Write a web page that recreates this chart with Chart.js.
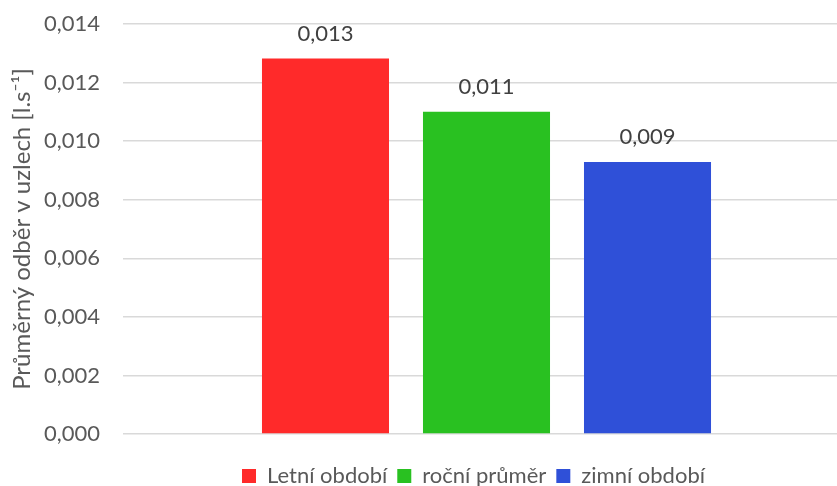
<!DOCTYPE html>
<html>
<head>
<meta charset="utf-8">
<script src="https://cdn.jsdelivr.net/npm/chart.js@4/dist/chart.umd.min.js"></script>
<style>
  html, body { margin: 0; padding: 0; background: #fff; }
  #wrap { width: 837px; height: 486px; }
</style>
</head>
<body>
<div id="wrap"><canvas id="barChart"></canvas></div>
<script>
const CHART = document.getElementById('barChart')

// data
const categories = ['']
const seriesNames = ['Letní období', 'roční průměr', 'zimní období']
const seriesValues = [0.01282, 0.0110, 0.00929]
const seriesColors = ['#ff2a2a', '#29c121', '#2f50d8']
const yTicks = [0, 0.002, 0.004, 0.006, 0.008, 0.010, 0.012, 0.014]

const FONT = 'Lato, Carlito, Calibri, sans-serif'
const GREY = '#595959'

const fmt = v => v.toFixed(3).replace('.', ',')

// Excel-like placement: bar group a bit right of centre, legend under the plot
const nudge = {
  id: 'nudge',
  afterLayout (chart) {
    const x = chart.scales.x
    x.right += 13
    x.configure()
    chart.legend.left += 55
    chart.legend.right += 55
    chart.legend.top += 11
    chart.legend.bottom += 11
  }
}

// labels above the bars
const valueLabels = {
  id: 'valueLabels',
  afterDatasetsDraw (chart) {
    const ctx = chart.ctx
    ctx.save()
    ctx.font = '22px ' + FONT
    ctx.fillStyle = '#404040'
    ctx.textAlign = 'center'
    ctx.textBaseline = 'middle'
    chart.data.datasets.forEach((ds, i) => {
      const bar = chart.getDatasetMeta(i).data[0]
      ctx.fillText(fmt(ds.data[0]), bar.x, bar.y - 25)
    })
    ctx.restore()
  }
}

const datasets = seriesNames.map((name, i) => ({
  label: name,
  data: [seriesValues[i]],
  backgroundColor: seriesColors[i],
  borderWidth: 0,
  categoryPercentage: 0.6644,
  barPercentage: 0.789
}))

new Chart(CHART, {
  type: 'bar',
  data: { labels: categories, datasets: datasets },
  options: {
    responsive: true,
    maintainAspectRatio: false,
    animation: false,
    layout: { padding: { left: 0, right: 0, top: 24, bottom: 0 } },
    plugins: {
      legend: {
        position: 'bottom',
        labels: {
          font: { family: FONT, size: 22 },
          color: GREY,
          boxWidth: 14,
          boxHeight: 14,
          padding: 10
        }
      },
      tooltip: { enabled: false }
    },
    scales: {
      x: {
        grid: { display: false },
        border: { display: false },
        ticks: { display: false },
        afterFit: axis => { axis.height = 10 }
      },
      y: {
        min: 0,
        max: 0.014,
        afterBuildTicks: axis => { axis.ticks = yTicks.map(v => ({ value: v })) },
        afterFit: axis => { axis.width = 123; axis.paddingTop = 0; axis.paddingBottom = 0 },
        ticks: {
          callback: v => fmt(v),
          font: { family: FONT, size: 22 },
          color: GREY,
          padding: 23
        },
        grid: { color: '#d9d9d9', lineWidth: 1.5, drawTicks: false },
        border: { display: false },
        title: {
          display: true,
          text: 'Průměrný odběr v uzlech [l.s⁻¹]',
          font: { family: FONT, size: 24 },
          color: GREY,
          padding: { top: 8, bottom: 0 }
        }
      }
    }
  },
  plugins: [nudge, valueLabels]
})
</script>
</body>
</html>
